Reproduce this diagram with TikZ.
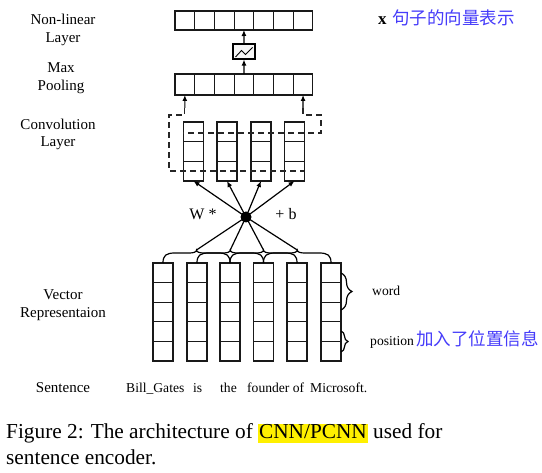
\documentclass[tikz,border=0pt]{standalone}
\usepackage{fontspec}
\setmainfont{Liberation Serif}
\newfontfamily\cjk{Noto Sans CJK SC}
\usetikzlibrary{arrows.meta,decorations.pathreplacing}
\definecolor{cnblue}{RGB}{70,60,250}
\definecolor{hly}{RGB}{255,240,0}
\begin{document}
\begin{tikzpicture}[x=1pt,y=-1pt,
  cell/.style={draw=black!90,line width=1.1pt,minimum width=19.7pt,inner sep=0pt,outer sep=0pt},
  ln/.style={line width=1.2pt,black},
  arr/.style={ln,-{Latex[length=6pt,width=5pt]}},
  dsh/.style={line width=1.2pt,black!85,dash pattern=on 6pt off 4pt},
  lbl/.style={font=\fontsize{15}{18}\selectfont,inner sep=0pt,anchor=base},
  wrd/.style={font=\fontsize{13.6}{16}\selectfont,inner sep=0pt,anchor=base west},
  cn/.style={font=\cjk\fontsize{17.5}{20}\selectfont,text=cnblue,inner sep=0pt,anchor=base west},
  captxt/.style={font=\fontsize{21.3}{26}\selectfont,inner sep=0pt,anchor=base west}]
\fill[white] (0,0) rectangle (542,473);
\useasboundingbox (0,0) rectangle (542,473);

% non-linear layer and pooling layer
\foreach \i in {1,...,7}{
  \node[cell,minimum height=19pt] (nl\i) at ({175+19.7*(\i-0.5)},20.5) {};
  \node[cell,minimum height=21pt] (p\i) at ({175+19.7*(\i-0.5)},84.5) {};
}
\node[draw,line width=1.1pt,fill=black!3,minimum width=22pt,minimum height=15pt,inner sep=0pt] (act) at (244,51.5) {};
\draw[line width=0.9pt] (235.5,57) -- (241.5,50.5) -- (245.5,54.5) -- (252.5,47.5);
\draw[arr] (p4.north) -- (act.south);
\draw[arr] (act.north) -- (nl4.south);

% convolution layer
\foreach \j/\x in {1/193.5,2/227,3/261,4/294.5}{
  \foreach \k in {1,2,3}{
    \node[cell,minimum width=20pt,minimum height=19.67pt] (cv\j-\k) at (\x,{122+19.67*(\k-0.5)}) {};
  }
}
\coordinate (la) at (184.85,108);
\coordinate (ra) at (303.05,108);
\draw[arr] (la) -- (p1.south);
\draw[arr] (ra) -- (p7.south);
\draw[dsh] (la) -- (184.85,115) -- (169,115) -- (169,171) -- (304,171);
\draw[dsh] (ra) -- (303.05,115) -- (321,115) -- (321,133) -- (183,133);

% filter
\node[circle,fill=black,inner sep=0pt,minimum size=11pt] (dot) at (246,217) {};
\foreach \j in {1,...,4}{
  \draw[arr] (dot.center) -- (cv\j-3.south);
}
\node[lbl,font=\fontsize{16}{18}\selectfont] (w) at (203,220) {W *};
\node[lbl,font=\fontsize{16}{18}\selectfont] (b) at (286,220) {+ b};

% vector representation
\foreach \j/\x in {1/163,2/197,3/230,4/263.5,5/297,6/331}{
  \foreach \k in {1,...,5}{
    \node[cell,minimum width=20pt,minimum height=19.6pt] (v\j-\k) at (\x,{263+19.6*(\k-0.5)}) {};
  }
}
\foreach \a/\b/\n in {163/230/1,197/263.5/2,230/297/3,263.5/331/4}{
  \pgfmathsetmacro\m{(\a+\b)/2}
  \coordinate (pk\n) at (\m,250);
  \draw[ln] (\a,263) .. controls (\a,255.5) and ({\a+3},253) .. ({\a+12},253) -- ({\m-7},253)
     .. controls ({\m-3},253) and (\m,252) .. (pk\n)
     .. controls (\m,252) and ({\m+3},253) .. ({\m+7},253) -- ({\b-12},253)
     .. controls ({\b-3},253) and (\b,255.5) .. (\b,263);
}
\foreach \n in {1,...,4}{
  \draw[ln] (dot.center) -- (pk\n);
}
\draw[ln,decorate,decoration={brace,amplitude=11pt}] (341,273) -- (341,310);
\draw[ln,decorate,decoration={brace,amplitude=7pt}] (341,331) -- (341,352);

% labels left
\node[lbl] (l1a) at (63,25) {Non-linear};
\node[lbl] (l1b) at (63,43) {Layer};
\node[lbl] (l2a) at (61,73) {Max};
\node[lbl] (l2b) at (61,91) {Pooling};
\node[lbl] (l3a) at (58,130) {Convolution};
\node[lbl] (l3b) at (58,147) {Layer};
\node[lbl] (l4a) at (63,300) {Vector};
\node[lbl] (l4b) at (63,318) {Representaion};
\node[lbl] (l5) at (63,393) {Sentence};

% sentence
\node[wrd] (s1) at (126,393) {Bill\_Gates};
\node[wrd] (s2) at (193,393) {is};
\node[wrd] (s3) at (220,393) {the};
\node[wrd] (s4) at (247,393) {founder of};
\node[wrd] (s5) at (310,393) {Microsoft.};

% right labels
\node[wrd] (wd) at (372,296) {word};
\node[wrd] (ps) at (370,346) {position};
\node[cn] (pcn) at (416,346) {加入了位置信息};
\node[wrd,font=\fontsize{17}{18}\selectfont\bfseries] (xx) at (378,25) {x};
\node[cn] (xcn) at (392,25) {句子的向量表示};

% caption
\node[captxt] (c1) at (6,439) {Figure 2: The architecture of {\setlength{\fboxsep}{1pt}\colorbox{hly}{\rule[-3pt]{0pt}{15pt}CNN/PCNN}} used for};
\node[captxt] (c2) at (6,465) {sentence encoder.};
\end{tikzpicture}
\end{document}
